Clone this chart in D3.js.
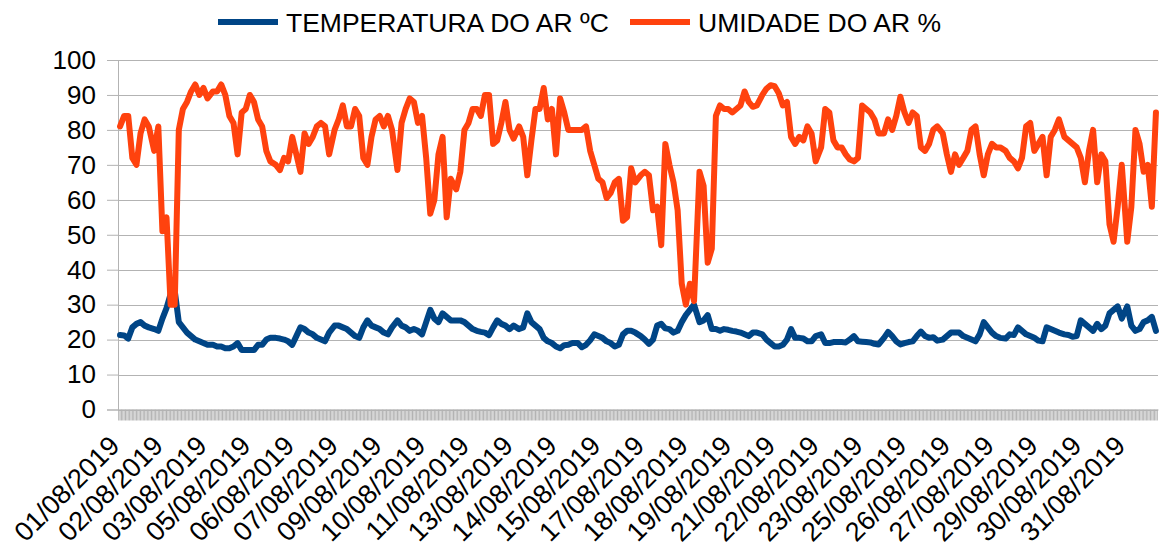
<!DOCTYPE html>
<html><head><meta charset="utf-8">
<script src="https://cdn.jsdelivr.net/npm/d3@7"></script>
<style>body{margin:0;background:#fff;} svg{display:block;font-family:"Liberation Sans",Arial,sans-serif;}</style>
</head><body><svg id="c" width="1160" height="549"></svg>
<script>
// hourly record index (category axis, one tick per record)
const nRecords = 761;
const categories = d3.range(nRecords);
// readings
const sampleStep = 3.069, sampleOffset = 1;
const temperatura = [
21.3,21.2,20.3,23.5,24.5,25,24,23.5,23,22.5,26,29,33,34,25,23.5,22,21,20,19.5,19,18.5,18.5,18,18,17.5,17.5,18,19,17,17,17,17,18.5,
18.5,20,20.5,20.5,20.3,20,19.5,18.5,21,23.5,23,22,21.5,20.5,20,19.5,22,24,24,23.5,23,22,21,20.5,23.5,25.5,24,23.5,23,22,21.5,23.5,25.5,24,23.5,22.5,
23,22.5,21.5,25,28.5,26,25,27.5,26.5,25.5,25.5,25.5,25,24,23,22.5,22.2,22,21.3,23.5,25.5,24.5,24,23,24,23,23.5,27.5,25,24,23,20.5,19.5,19,18,17.5,
18.4,18.5,19,19,17.8,18.5,19.8,21.5,21,20.5,19.5,19,18,18.5,21.5,22.5,22.5,22,21,20,18.8,20,24,24.5,23.2,23,22,22.5,25,27,28.5,30,25,25.5,27,23,
23,22.5,23,22.8,22.5,22.3,22,21.5,21,22,22,21.5,20,19,18,18,18.5,20,23,20.5,20.5,20.3,19.5,19.5,21,21.5,19,19,19.3,19.3,19.3,19.2,20,21,19.5,19.4,
19.3,19.2,18.8,18.6,20.5,22.2,21,19.5,18.6,19,19.3,19.5,21,22.3,21,20.5,20.7,19.7,20,21,22,22,22,21,20.5,20,19.5,21.5,25,23.5,22,21,20.5,20.3,21.5,
21.3,23.5,22.5,21.5,21,20.5,19.7,19.5,23.5,23,22.5,22,21.5,21.3,20.8,21,25.5,24.5,23.5,22.5,24.5,23,24,27.5,28.5,29.5,26,29.5,24,22.5,23,25,25.5,26.5,22.5
];
const umidade = [
81,84,84,72,70,79,83,81,74,81,51,55,30,30,80,86,88,91,93,90,92,89,91,91,93,90,84,82,73,85,86,90,88,83,
81,74,71,70,68.5,72,71,78,73,68,79,76,78,81,82,81,73,80,83,87,81,81,86,84,72,70,78,83,84,81,84,80,68.5,82,86,89,
88,82,84,72,56,60,73,78,55,66,63,68,80,82,86,86,84,90,90,76,77,82,88,80,77.5,81,78,67,77,86,86,92,83,86,73,89,
85,80,80,80,80,81,74,70,66,65,60.5,62,65,66,54,55,69,65,67,68,67,57,58,47,76,70,65,57,36,30,36,31,68,64,42,46,
84,87,86,86,85,86,87,91,88,86.6,87,90,91.8,92.8,92.5,90.5,87,88,78,76,78,77,81,79,71,75,86,85,77,75,75,73,71.5,71,72,87,
86,85,83,79,79,83,80,84,89.5,85,82,85,84,75,74,76,80,81,79,73,68,73,70,72,74,80,81,73,67,73,76,75,75,74,72,
71,69,72,81,82,74,76,78,67,78,80,83,78,77,76,75,72,65,74,80,65,73,71,53,48,58,70,48,58,80,76,68,70,58,85
];
const yTicks = [0,10,20,30,40,50,60,70,80,90,100];
const labelEvery = 32;
const tickLabels = ["01/08/2019","02/08/2019","03/08/2019","05/08/2019","06/08/2019","07/08/2019","09/08/2019","10/08/2019",
"11/08/2019","13/08/2019","14/08/2019","15/08/2019","17/08/2019","18/08/2019","19/08/2019","21/08/2019","22/08/2019","23/08/2019",
"25/08/2019","26/08/2019","27/08/2019","29/08/2019","30/08/2019","31/08/2019"];
const seriesNames = ["TEMPERATURA DO AR ºC","UMIDADE DO AR %"];
const seriesColors = ["#004586","#ff420e"];

const svg = d3.select("#c");
const L = 118, R = 1158, T = 60, B = 409.5;
const grid = "#b3b3b3";
const x = d3.scaleBand().domain(categories).range([L, R]).padding(0);
const y = d3.scaleLinear().domain([0,100]).range([B, T]);

// gridlines
svg.append("g").selectAll("line").data(yTicks).join("line")
  .attr("x1", L).attr("x2", R)
  .attr("y1", d => Math.round(y(d)) + 0.5).attr("y2", d => Math.round(y(d)) + 0.5)
  .attr("stroke", grid).attr("stroke-width", 1);

// y axis
const ya = svg.append("g").attr("transform", `translate(${L},0)`)
  .call(d3.axisLeft(y).tickValues(yTicks).tickSize(11).tickPadding(11));
ya.selectAll("path,line").attr("stroke", grid);
ya.selectAll("text").attr("font-size", 26).attr("fill", "#000")
  .attr("font-family", '"Liberation Sans",Arial,sans-serif');

// x axis (a tick for every record)
const xa = svg.append("g").attr("transform", `translate(0,${B})`)
  .call(d3.axisBottom(x).tickValues(categories).tickFormat("").tickSizeInner(11).tickSizeOuter(0));
xa.selectAll("path,line").attr("stroke", grid);

// x labels, one every 32 records
svg.append("g").selectAll("text").data(tickLabels).join("text")
  .attr("transform", (d, i) => `translate(${x(i * labelEvery) + 3},${B + 38}) rotate(-45)`)
  .attr("text-anchor", "end").attr("font-size", 27).attr("fill", "#000")
  .text(d => d);

// lines
const line = d3.line()
  .x((d, k) => x(Math.min(nRecords - 1, Math.round(k * sampleStep + sampleOffset))) + x.bandwidth() / 2)
  .y(d => y(d));
[temperatura, umidade].forEach((s, i) => {
  svg.append("path").datum(s).attr("d", line)
    .attr("fill", "none").attr("stroke", seriesColors[i])
    .attr("stroke-width", 6).attr("stroke-linejoin", "round").attr("stroke-linecap", "round");
});

// legend
const lg = svg.append("g");
const legendX = [218, 630];
seriesNames.forEach((n, i) => {
  lg.append("line").attr("x1", legendX[i]).attr("x2", legendX[i] + 60)
    .attr("y1", 22).attr("y2", 22).attr("stroke", seriesColors[i]).attr("stroke-width", 6);
  lg.append("text").attr("x", legendX[i] + 68).attr("y", 31.5)
    .attr("font-size", 26.5).attr("fill", "#000").text(n);
});
</script></body></html>
